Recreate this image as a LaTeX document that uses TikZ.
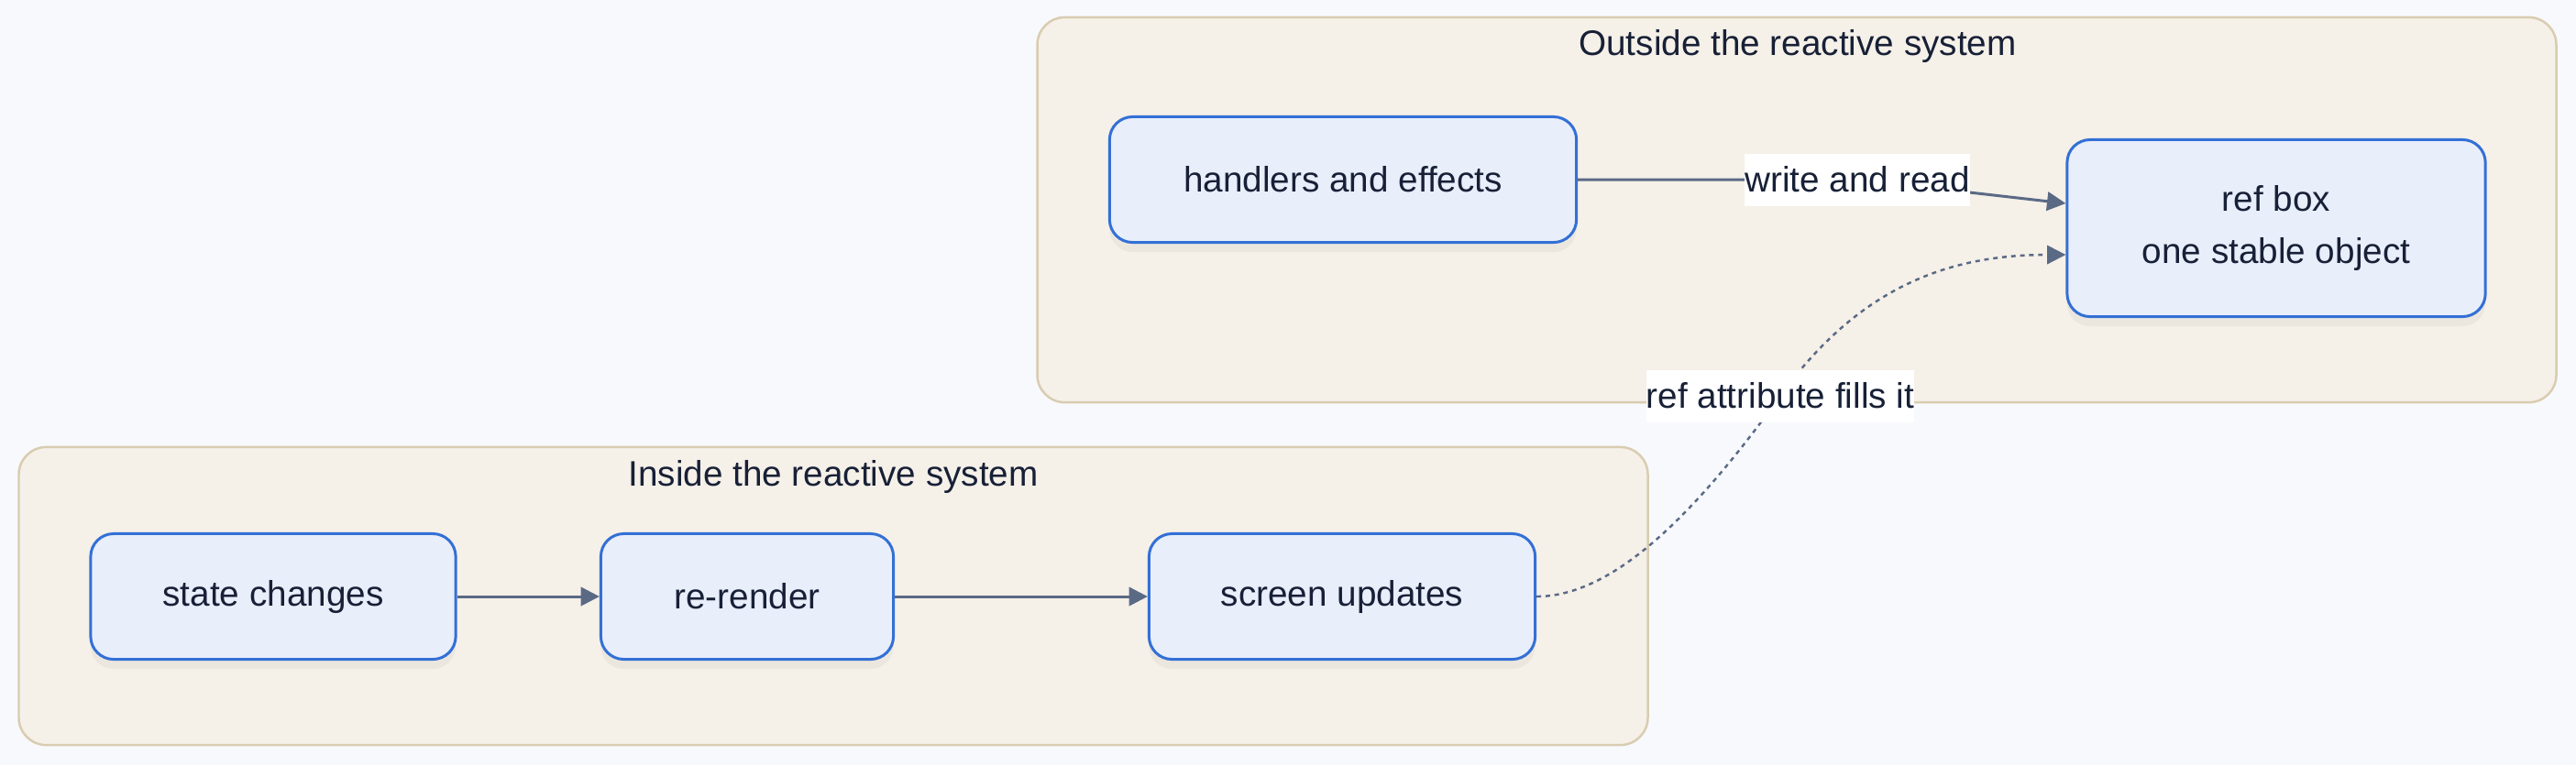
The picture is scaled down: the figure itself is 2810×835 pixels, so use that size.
\documentclass[tikz,border=0pt]{standalone}
\usepackage{fontspec}
\setmainfont{Liberation Sans}
\usetikzlibrary{arrows.meta,shadows}
\definecolor{bgc}{HTML}{F8F9FC}
\definecolor{clfill}{HTML}{F5F0E8}
\definecolor{cldraw}{HTML}{D9CCB0}
\definecolor{ndfill}{HTML}{E8EEFA}
\definecolor{nddraw}{HTML}{3370D6}
\definecolor{edgec}{HTML}{5A6A85}
\definecolor{txtc}{HTML}{172036}
\tikzset{
  every node/.style={text=txtc, font=\fontsize{11}{16.2}\selectfont},
  cluster/.style={draw=cldraw, fill=clfill, line width=0.7pt, rounded corners=0.3cm, inner sep=0},
  ctitle/.style={inner sep=0},
  proc/.style={draw=nddraw, fill=ndfill, line width=0.85pt, rounded corners=0.25cm,
    align=center, minimum height=1.37cm, inner sep=0,
    drop shadow={opacity=0.08, shadow xshift=0pt, shadow yshift=-3pt}},
  lbl/.style={fill=white, inner xsep=0pt, inner ysep=0pt, minimum height=0.57cm},
  edge/.style={draw=edgec, line width=0.85pt, -{Triangle[length=5.8pt,width=5.8pt]}},
  dotedge/.style={draw=edgec, line width=0.7pt, dash pattern=on 1.4pt off 1.4pt,
    -{Triangle[length=5.8pt,width=5.8pt]}}
}
\begin{document}
\begin{tikzpicture}[x=0.01cm, y=-0.01cm]
\fill[bgc] (0,0) rectangle (2810,835);
\useasboundingbox (0,0) rectangle (2810,835);

% clusters
\node[cluster, minimum width=16.56cm, minimum height=4.20cm] (outside) at (1960,229) {};
\node[ctitle] (outsidet) at (1961,50) {Outside the reactive system};
\node[cluster, minimum width=17.76cm, minimum height=3.25cm] (inside) at (909,650.5) {};
\node[ctitle] (insidet) at (909,520) {Inside the reactive system};

% nodes
\node[proc, minimum width=5.09cm] (handlers) at (1465,196) {handlers and effects};
\node[proc, minimum width=4.56cm, minimum height=1.93cm] (refbox) at (2483,249) {ref box\\one stable object};
\node[proc, minimum width=3.98cm] (state) at (298,651) {state changes};
\node[proc, minimum width=3.19cm] (rerender) at (815,651) {re-render};
\node[proc, minimum width=4.21cm] (screen) at (1464,651) {screen updates};

% edges
\draw[edge] (state.east) -- (rerender.west);
\draw[edge] (rerender.east) -- (screen.west);

\coordinate (wrp) at (2026,196);
\draw[edge] (handlers.east) -- (wrp) -- ([yshift=0.27cm]refbox.west);

\coordinate (rap) at (1942,432);
\draw[dotedge] (screen.east) .. controls (1760,651) and (1850,560) .. (rap)
  .. controls (2030,310) and (2130,278) .. ([yshift=-0.29cm]refbox.west);

% edge labels
\node[lbl] (wr) at (wrp) {write and read};
\node[lbl] (ra) at (rap) {ref attribute fills it};
\end{tikzpicture}
\end{document}
